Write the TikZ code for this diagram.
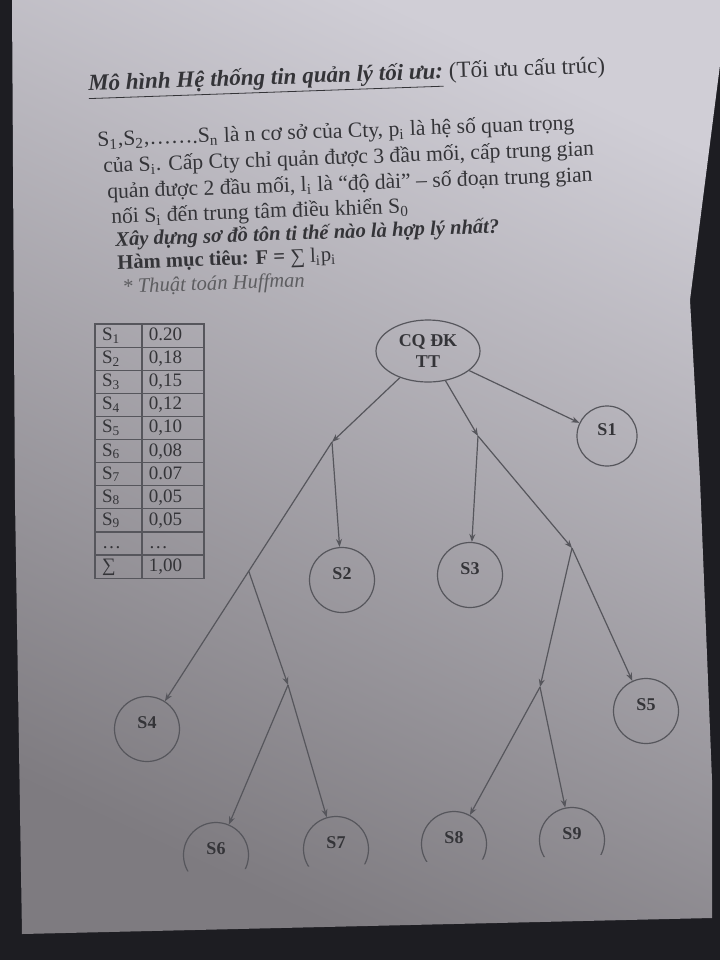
\documentclass[tikz,border=0pt]{standalone}
\usepackage{fontspec}
\setmainfont{Liberation Serif}
\usetikzlibrary{shapes.geometric,arrows.meta,matrix,calc}
\definecolor{ink}{HTML}{343438}
\definecolor{edge}{HTML}{56565C}
\definecolor{paperT}{HTML}{D0CED6}
\definecolor{paperB}{HTML}{7E7B80}
\definecolor{desk}{HTML}{1D1D22}
\begin{document}
\begin{tikzpicture}[x=0.5pt,y=-0.5pt,
  txt/.style={anchor=west, inner sep=0pt, text=ink, rotate=2, font=\fontsize{10.8}{12.5}\selectfont},
  txtb/.style={txt, font=\fontsize{10.3}{12.5}\selectfont},
  snode/.style={circle, draw=edge, line width=0.6pt, minimum size=32.5pt, inner sep=1pt, text=ink,
    font=\bfseries\fontsize{9}{10}\selectfont, text depth=6pt},
  hidden/.style={snode, draw=none},
  arcline/.style={draw=edge, line width=0.6pt},
  arr/.style={draw=edge, line width=0.6pt, -{Stealth[length=4pt,width=3pt]}},
]
\useasboundingbox (0,0) rectangle (720,960);
% background: desk and paper sheet
\fill[desk] (0,0) rectangle (720,960);
\shade[top color=paperT, bottom color=paperB, shading angle=-25]
  (12,0) -- (720,0) -- (720,65) -- (690,300) -- (700,480) -- (712,780) -- (712,918) -- (22,934) -- (15,500) -- cycle;

% texts
\node[txt, font=\fontsize{11.5}{14}\selectfont] (title) at (88,87)
  {\underline{\textbf{\textit{Mô hình Hệ thống tin quản lý tối ưu:}}} (Tối ưu cấu trúc)};
\node[txt] (l1) at (97,141) {S\textsubscript{1},S\textsubscript{2},…….S\textsubscript{n} là n cơ sở của Cty, p\textsubscript{i} là hệ số quan trọng};
\node[txt] (l2) at (103,167) {của S\textsubscript{i}. Cấp Cty chỉ quản được 3 đầu mối, cấp trung gian};
\node[txt] (l3) at (107,193) {quản được 2 đầu mối, l\textsubscript{i} là “độ dài” – số đoạn trung gian};
\node[txt] (l4) at (111,218) {nối S\textsubscript{i} đến trung tâm điều khiển S\textsubscript{0}};
\node[txtb] (l5) at (115,241) {\textbf{\textit{Xây dựng sơ đồ tôn ti thế nào là hợp lý nhất?}}};
\node[txtb] (l6) at (117,264) {\textbf{Hàm mục tiêu: F =} ∑ l\textsubscript{i}p\textsubscript{i}};
\node[txtb, text=ink!80] (l7) at (122,288) {\textit{* Thuật toán Huffman}};

% table
\matrix (tbl) [matrix of nodes, anchor=north west, inner sep=0pt,
  column sep=-0.6pt, row sep=-0.6pt,
  nodes={draw=edge, line width=0.6pt, minimum height=11.55pt, inner ysep=0pt, inner xsep=3.5pt,
    text height=6.5pt, text depth=1.5pt, align=left, text=ink, font=\fontsize{9.5}{10}\selectfont},
  column 1/.style={nodes={text width=16.5pt}},
  column 2/.style={nodes={text width=24pt}}] at (94,323) {
  S\textsubscript{1} & 0.20 \\
  S\textsubscript{2} & 0,18 \\
  S\textsubscript{3} & 0,15 \\
  S\textsubscript{4} & 0,12 \\
  S\textsubscript{5} & 0,10 \\
  S\textsubscript{6} & 0,08 \\
  S\textsubscript{7} & 0.07 \\
  S\textsubscript{8} & 0,05 \\
  S\textsubscript{9} & 0,05 \\
  … & … \\
  ∑ & 1,00 \\
};

% tree nodes
\node[ellipse, draw=edge, line width=0.6pt, minimum width=52pt, minimum height=31pt, inner sep=0pt,
  align=center, text=ink, font=\bfseries\fontsize{9}{10.5}\selectfont] (CQ) at (428,351) {CQ ĐK\\TT};
\node[snode, minimum size=30pt] (S1) at (607,436) {S1};
\node[snode] (S2) at (342,580) {S2};
\node[snode] (S3) at (470,575) {S3};
\node[snode] (S4) at (147,729) {S4};
\node[snode] (S5) at (646,711) {S5};
\node[hidden] (S6) at (216,855) {S6};
\node[hidden] (S7) at (336,849) {S7};
\node[hidden] (S8) at (454,844) {S8};
\node[hidden] (S9) at (572,840) {S9};
% bottom circles, cut off at the lower edge as in the print
\begin{scope}
  \clip (0,0) -- (720,0) -- (720,850) -- (150,873) -- (0,873) -- cycle;
  \foreach \n in {S6,S7,S8,S9} \draw[arcline] (\n) circle[radius=16.25pt];
\end{scope}

% junctions
\coordinate (J1) at (332,442);
\coordinate (J2) at (478,436);
\coordinate (J3) at (572,548);
\coordinate (J5) at (288,685);
\coordinate (J6) at (540,687);

% connectors
\draw[arr] (CQ) -- (S1);
\draw[arr] (CQ) -- (J1);
\draw[arr] (CQ) -- (J2);
\draw[arr] (J1) -- (S2);
\draw[arr] (J1) -- (S4);
\coordinate (J4) at ($(J1)!0.45!(S4)$);
\draw[arr] (J4) -- (J5);
\draw[arr] (J5) -- (S6);
\draw[arr] (J5) -- (S7);
\draw[arr] (J2) -- (S3);
\draw[arr] (J2) -- (J3);
\draw[arr] (J3) -- (S5);
\draw[arr] (J3) -- (J6);
\draw[arr] (J6) -- (S8);
\draw[arr] (J6) -- (S9);
\end{tikzpicture}
\end{document}
